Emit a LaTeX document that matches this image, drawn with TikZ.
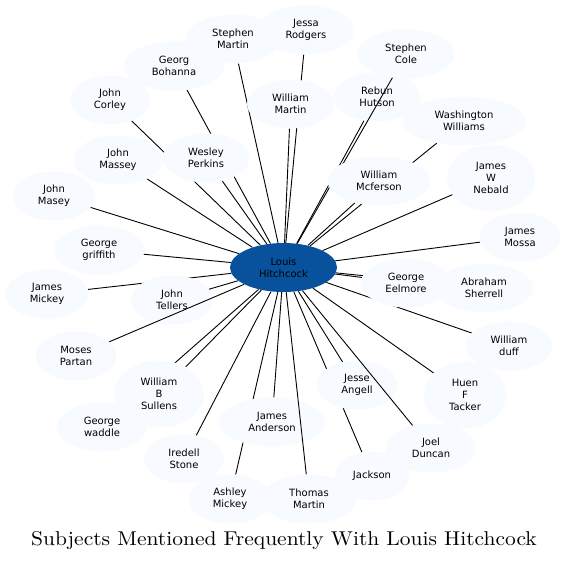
\documentclass[tikz,border=0pt]{standalone}
\usepackage{fontspec}
\usepackage{tikz}
\usetikzlibrary{shapes.geometric, backgrounds}
\newfontfamily\labelfont{DejaVu Sans}
\definecolor{hubblue}{RGB}{8,81,156}
\definecolor{palefill}{RGB}{247,251,255}
\tikzset{
  person/.style={ellipse, fill=palefill, inner sep=0pt, minimum height=49pt,
    align=center, font=\labelfont\fontsize{10}{12}\selectfont},
  tallperson/.style={person, minimum height=67pt},
  hubnode/.style={person, fill=hubblue, minimum width=107pt},
  link/.style={line width=0.9pt, black},
}
\begin{document}
\begin{tikzpicture}[x=1pt, y=-1pt]
  \useasboundingbox (0,0) rectangle (567,560);
  \node[hubnode] (hitchcock) at (283.5,267.5) {Louis\\Hitchcock};
  % outer ring, top
  \node[person, minimum width=95pt] (smartin) at (233,39) {Stephen\\Martin};
  \node[person, minimum width=96pt] (jrodgers) at (306,30) {Jessa\\Rodgers};
  \node[person, minimum width=97pt] (scole) at (406,54) {Stephen\\Cole};
  \node[person, minimum width=87pt] (rhutson) at (377,97) {Rebun\\Hutson};
  \node[person, minimum width=87pt] (wmartin) at (290.5,104) {William\\Martin};
  \node[person, minimum width=100pt] (gbohanna) at (174,66) {Georg\\Bohanna};
  \node[person, minimum width=80pt] (jcorley) at (110,100) {John\\Corley};
  \node[person, minimum width=90pt] (jmassey) at (118,160) {John\\Massey};
  \node[person, minimum width=87pt] (wperkins) at (206,158) {Wesley\\Perkins};
  \node[person, minimum width=123pt] (wwilliams) at (464,121) {Washington\\Williams};
  \node[tallperson, minimum width=88pt] (jnebald) at (491,178) {James\\W\\Nebald};
  % left side
  \node[person, minimum width=82pt] (jmasey) at (54,196) {John\\Masey};
  \node[person, minimum width=90pt] (ggriffith) at (99,250) {George\\griffith};
  \node[person, minimum width=83pt] (jmickey) at (47,294) {James\\Mickey};
  \node[person, minimum width=82pt] (jtellers) at (172,300) {John\\Tellers};
  \node[person, minimum width=81pt] (mpartan) at (76,356) {Moses\\Partan};
  % right side
  \node[person, minimum width=81pt] (jmossa) at (520,237) {James\\Mossa};
  \node[person, minimum width=90pt] (geelmore) at (406,283) {George\\Eelmore};
  \node[person, minimum width=98pt] (asherrell) at (484,288) {Abraham\\Sherrell};
  \node[person, minimum width=87pt] (wduff) at (509,346) {William\\duff};
  % bottom
  \node[tallperson, minimum width=90pt] (wsullens) at (159,394) {William\\B\\Sullens};
  \node[person, minimum width=90pt] (gwaddle) at (102,427) {George\\waddle};
  \node[person, minimum width=80pt] (istone) at (184,459) {Iredell\\Stone};
  \node[person, minimum width=106pt] (janderson) at (272,422) {James\\Anderson};
  \node[person, minimum width=83pt] (amickey) at (230,499) {Ashley\\Mickey};
  \node[person, minimum width=96pt] (tmartin) at (309,499) {Thomas\\Martin};
  \node[person, minimum width=81pt] (jangell) at (357,385) {Jesse\\Angell};
  \node[person, minimum width=74pt] (jackson) at (372,476) {Jackson};
  \node[person, minimum width=91pt] (jduncan) at (431,448) {Joel\\Duncan};
  \node[tallperson, minimum width=82pt] (htacker) at (465,395) {Huen\\F\\Tacker};
  % links that cross over other nodes
  \draw[link] (hitchcock) -- (scole);
  \draw[link] (hitchcock) -- (mpartan);
  \draw[link] (hitchcock) -- (jduncan);
  \draw[link] (hitchcock) -- (tmartin);
  \node[person, minimum width=103pt] (wmcferson) at (379,181) {William\\Mcferson};
  % the remaining links stay behind the nodes
  \begin{scope}[on background layer]
    \foreach \who in {smartin, jrodgers, rhutson, wmartin, gbohanna, jcorley,
        jmassey, wperkins, wwilliams, jnebald, wmcferson, jmasey, ggriffith,
        jmickey, jtellers, jmossa, geelmore, asherrell, wduff, wsullens,
        gwaddle, istone, janderson, amickey, jangell, jackson, htacker}
      \draw[link] (hitchcock) -- (\who);
  \end{scope}
  \node[anchor=base, xscale=2.15, yscale=2.0, font=\fontsize{10}{12}\selectfont]
    (title) at (284,545) {Subjects Mentioned Frequently With Louis Hitchcock};
\end{tikzpicture}
\end{document}
